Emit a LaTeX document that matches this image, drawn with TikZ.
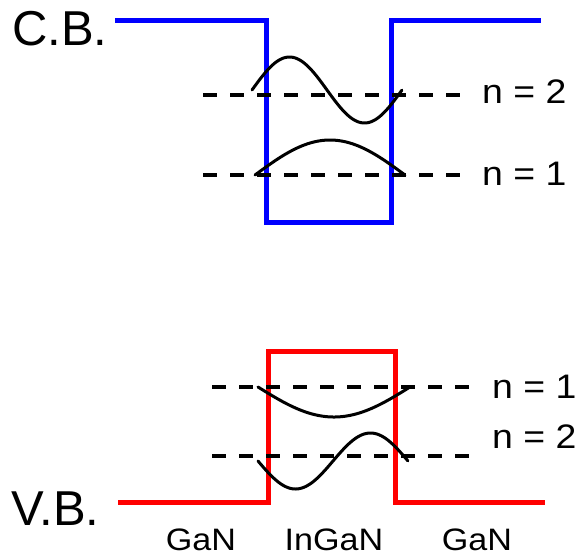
\documentclass[tikz,border=0pt]{standalone}
\usepackage{fontspec}
\setmainfont{Liberation Sans}
\newfontfamily\labfont[FakeStretch=1.1]{Liberation Sans}
\begin{document}
\begin{tikzpicture}[x=1pt,y=-1pt,
  band/.style={line width=5pt,line join=miter,line cap=butt},
  cbband/.style={band,draw={rgb,255:red,0;green,0;blue,255}},
  vbband/.style={band,draw={rgb,255:red,255;green,0;blue,0}},
  level/.style={line width=4pt,dash pattern=on 14pt off 13pt},
  wave/.style={line width=3pt,line cap=round,line join=round},
  bigtxt/.style={anchor=base west,inner sep=0pt,font=\fontsize{49}{54}\selectfont},
  ntxt/.style={anchor=base west,inner sep=0pt,font=\labfont\fontsize{34}{40}\selectfont},
  mattxt/.style={anchor=base,inner sep=0pt,font=\labfont\fontsize{31}{36}\selectfont}]
\useasboundingbox (0,0) rectangle (585,555);
% conduction band
\coordinate (cb1) at (115,20);
\coordinate (cb2) at (266,20);
\coordinate (cb3) at (266,222);
\coordinate (cb4) at (391,222);
\coordinate (cb5) at (391,20);
\coordinate (cb6) at (541,20);
\draw[cbband] (cb1) -- (cb2) -- (cb3) -- (cb4) -- (cb5) -- (cb6);
% valence band
\coordinate (vb1) at (118,502);
\coordinate (vb2) at (268,502);
\coordinate (vb3) at (268,351);
\coordinate (vb4) at (395,351);
\coordinate (vb5) at (395,502);
\coordinate (vb6) at (545,502);
\draw[vbband] (vb1) -- (vb2) -- (vb3) -- (vb4) -- (vb5) -- (vb6);
% levels
\coordinate (c2a) at (203,95);  \coordinate (c2b) at (460,95);
\coordinate (c1a) at (203,175); \coordinate (c1b) at (460,175);
\coordinate (v1a) at (212,387); \coordinate (v1b) at (469,387);
\coordinate (v2a) at (212,456); \coordinate (v2b) at (469,456);
\draw[level] (c2a) -- (c2b);
\draw[level] (c1a) -- (c1b);
\draw[level] (v1a) -- (v1b);
\draw[level] (v2a) -- (v2b);
% wave functions
\draw[wave] plot[domain=0:1,samples=80] ({252+150*\x},{90-33*sin(360*\x)});
\draw[wave] plot[domain=0:1,samples=80] ({255+150*\x},{175-35*sin(180*\x)});
\draw[wave] plot[domain=0:1,samples=80] ({258+152*\x},{387+30*sin(180*\x)});
\draw[wave] plot[domain=0:1,samples=80] ({258+150*\x},{461+28*sin(360*\x)});
% labels
\node[bigtxt] (cb) at (12,45) {C.B.};
\node[bigtxt] (vb) at (11,525) {V.B.};
\node[ntxt] (cn2) at (482,103) {n = 2};
\node[ntxt] (cn1) at (482,185) {n = 1};
\node[ntxt] (vn1) at (492,398) {n = 1};
\node[ntxt] (vn2) at (492,448) {n = 2};
\node[mattxt] (g1) at (201,550) {GaN};
\node[mattxt] (g2) at (334,550) {InGaN};
\node[mattxt] (g3) at (477,550) {GaN};
\end{tikzpicture}
\end{document}
